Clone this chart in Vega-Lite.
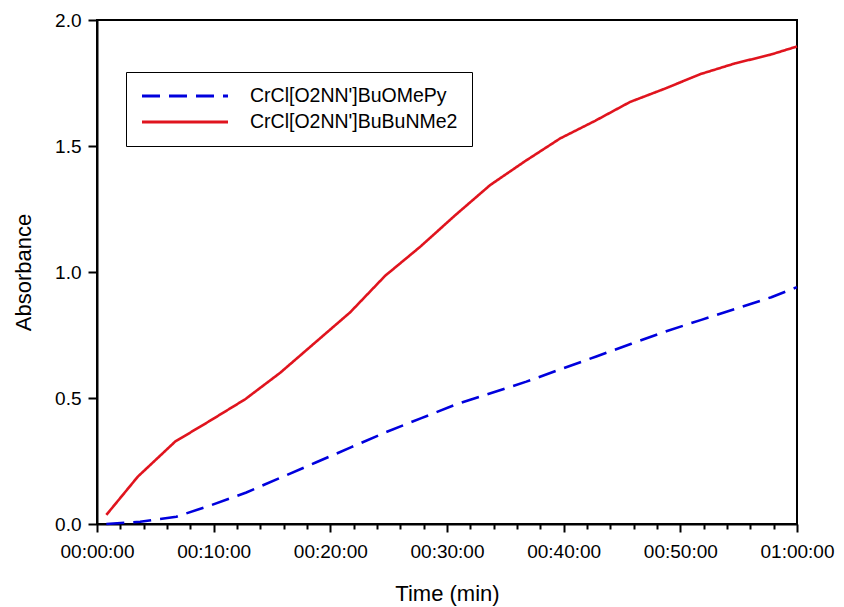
{
  "$schema": "https://vega.github.io/schema/vega-lite/v6.json",
  "autosize": "none",
  "width": 700,
  "height": 504,
  "padding": {"left": 97, "top": 20, "right": 47, "bottom": 83},
  "background": "white",
  "config": {
    "view": {"stroke": "black", "strokeWidth": 2},
    "font": "Liberation Sans",
    "axis": {"grid": false, "ticks": true, "tickOpacity": 1, "domainColor": "black", "domainWidth": 2, "tickColor": "black", "tickWidth": 2, "labelColor": "black", "titleColor": "black", "labelFont": "Liberation Sans", "titleFont": "Liberation Sans", "titleFontWeight": "normal", "labelFontSize": 19, "titleFontSize": 22},
    "legend": {"strokeColor": "black", "padding": 14, "rowPadding": 6, "clipHeight": 20}
  },
  "data": {
    "values": [
      {"t": 0.8, "a": 0.0, "s": "CrCl[O2NN']BuOMePy"},
      {"t": 3.7, "a": 0.009, "s": "CrCl[O2NN']BuOMePy"},
      {"t": 6.8, "a": 0.029, "s": "CrCl[O2NN']BuOMePy"},
      {"t": 9.8, "a": 0.075, "s": "CrCl[O2NN']BuOMePy"},
      {"t": 12.8, "a": 0.125, "s": "CrCl[O2NN']BuOMePy"},
      {"t": 15.8, "a": 0.185, "s": "CrCl[O2NN']BuOMePy"},
      {"t": 18.8, "a": 0.245, "s": "CrCl[O2NN']BuOMePy"},
      {"t": 21.8, "a": 0.305, "s": "CrCl[O2NN']BuOMePy"},
      {"t": 24.8, "a": 0.365, "s": "CrCl[O2NN']BuOMePy"},
      {"t": 27.8, "a": 0.42, "s": "CrCl[O2NN']BuOMePy"},
      {"t": 30.8, "a": 0.475, "s": "CrCl[O2NN']BuOMePy"},
      {"t": 33.8, "a": 0.52, "s": "CrCl[O2NN']BuOMePy"},
      {"t": 36.8, "a": 0.565, "s": "CrCl[O2NN']BuOMePy"},
      {"t": 39.8, "a": 0.615, "s": "CrCl[O2NN']BuOMePy"},
      {"t": 42.8, "a": 0.665, "s": "CrCl[O2NN']BuOMePy"},
      {"t": 45.8, "a": 0.715, "s": "CrCl[O2NN']BuOMePy"},
      {"t": 48.8, "a": 0.765, "s": "CrCl[O2NN']BuOMePy"},
      {"t": 51.8, "a": 0.81, "s": "CrCl[O2NN']BuOMePy"},
      {"t": 54.8, "a": 0.855, "s": "CrCl[O2NN']BuOMePy"},
      {"t": 57.8, "a": 0.9, "s": "CrCl[O2NN']BuOMePy"},
      {"t": 60, "a": 0.94, "s": "CrCl[O2NN']BuOMePy"},
      {"t": 0.8, "a": 0.036, "s": "CrCl[O2NN']BuBuNMe2"},
      {"t": 3.5, "a": 0.188, "s": "CrCl[O2NN']BuBuNMe2"},
      {"t": 6.7, "a": 0.327, "s": "CrCl[O2NN']BuBuNMe2"},
      {"t": 9.7, "a": 0.41, "s": "CrCl[O2NN']BuBuNMe2"},
      {"t": 12.7, "a": 0.495, "s": "CrCl[O2NN']BuBuNMe2"},
      {"t": 15.7, "a": 0.6, "s": "CrCl[O2NN']BuBuNMe2"},
      {"t": 18.7, "a": 0.72, "s": "CrCl[O2NN']BuBuNMe2"},
      {"t": 21.7, "a": 0.84, "s": "CrCl[O2NN']BuBuNMe2"},
      {"t": 24.7, "a": 0.985, "s": "CrCl[O2NN']BuBuNMe2"},
      {"t": 27.7, "a": 1.1, "s": "CrCl[O2NN']BuBuNMe2"},
      {"t": 30.7, "a": 1.225, "s": "CrCl[O2NN']BuBuNMe2"},
      {"t": 33.7, "a": 1.345, "s": "CrCl[O2NN']BuBuNMe2"},
      {"t": 36.7, "a": 1.44, "s": "CrCl[O2NN']BuBuNMe2"},
      {"t": 39.7, "a": 1.53, "s": "CrCl[O2NN']BuBuNMe2"},
      {"t": 42.7, "a": 1.6, "s": "CrCl[O2NN']BuBuNMe2"},
      {"t": 45.7, "a": 1.675, "s": "CrCl[O2NN']BuBuNMe2"},
      {"t": 48.7, "a": 1.728, "s": "CrCl[O2NN']BuBuNMe2"},
      {"t": 51.7, "a": 1.785, "s": "CrCl[O2NN']BuBuNMe2"},
      {"t": 54.7, "a": 1.828, "s": "CrCl[O2NN']BuBuNMe2"},
      {"t": 57.7, "a": 1.862, "s": "CrCl[O2NN']BuBuNMe2"},
      {"t": 60, "a": 1.895, "s": "CrCl[O2NN']BuBuNMe2"}
    ]
  },
  "layer": [
    {
      "mark": {"type": "line", "strokeWidth": 2.6},
      "encoding": {
        "x": {
          "field": "t", "type": "quantitative",
          "scale": {"domain": [0, 60], "nice": false, "zero": false},
          "axis": {
            "orient": "bottom",
            "values": [0, 10, 20, 30, 40, 50, 60],
            "labelExpr": "datum.value == 60 ? '01:00:00' : '00:' + (datum.value < 10 ? '0' : '') + datum.value + ':00'",
            "ticks": true, "tickSize": 8, "tickWidth": 2, "tickColor": "#000000", "labelPadding": 10,
            "title": "Time (min)", "titlePadding": 22,
            "labelFlush": false, "labelOverlap": false
          }
        },
        "y": {
          "field": "a", "type": "quantitative",
          "scale": {"domain": [0, 2], "nice": false},
          "axis": {
            "values": [0, 0.5, 1, 1.5, 2], "format": ".1f",
            "ticks": true, "tickSize": 9, "tickWidth": 2, "tickColor": "#000000", "labelPadding": 7,
            "title": "Absorbance", "titlePadding": 19,
            "labelFlush": false
          }
        },
        "color": {
          "field": "s", "type": "nominal",
          "scale": {"domain": ["CrCl[O2NN']BuOMePy", "CrCl[O2NN']BuBuNMe2"], "range": ["#0000dd", "#e0141e"]},
          "legend": {
            "title": null, "orient": "none", "legendX": 29, "legendY": 52,
            "symbolType": "stroke", "symbolSize": 7400, "symbolStrokeWidth": 3,
            "labelFontSize": 19.5, "labelOffset": 20, "labelColor": "black", "labelLimit": 400
          }
        },
        "strokeDash": {
          "field": "s", "type": "nominal",
          "scale": {"domain": ["CrCl[O2NN']BuOMePy", "CrCl[O2NN']BuBuNMe2"], "range": [[18, 9], [1, 0]]},
          "legend": {
            "title": null, "orient": "none", "legendX": 29, "legendY": 52,
            "symbolType": "stroke", "symbolSize": 7400, "symbolStrokeWidth": 3,
            "labelFontSize": 19.5, "labelOffset": 20, "labelColor": "black", "labelLimit": 400
          }
        }
      }
    },
    {
      "mark": {"type": "point", "opacity": 0},
      "encoding": {
        "x": {
          "field": "t", "type": "quantitative",
          "scale": {"domain": [0, 60], "nice": false, "zero": false},
          "axis": {
            "orient": "bottom",
            "values": [2, 4, 6, 8, 12, 14, 16, 18, 22, 24, 26, 28, 32, 34, 36, 38, 42, 44, 46, 48, 52, 54, 56, 58],
            "labels": false, "title": null, "domain": false, "ticks": true, "tickSize": 5, "tickColor": "#000000", "tickWidth": 2
          }
        },
        "y": {"field": "a", "type": "quantitative", "scale": {"domain": [0, 2], "nice": false}}
      }
    }
  ],
  "resolve": {"scale": {"x": "independent"}, "axis": {"x": "independent"}}
}
